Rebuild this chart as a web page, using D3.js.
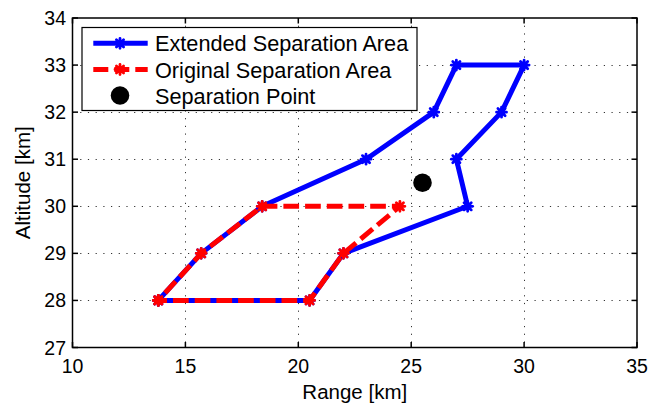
<!DOCTYPE html>
<html>
<head>
<meta charset="utf-8">
<script src="https://cdn.jsdelivr.net/npm/d3@7"></script>
<style>
  html, body { margin: 0; padding: 0; background: #fff; }
  svg { display: block; font-family: "Liberation Sans", Arial, Helvetica, sans-serif; }
</style>
</head>
<body>
<script>
// Extended separation area boundary (range km, altitude km)
const extendedRange    = [13.8, 20.5, 22.0, 27.5, 27.0, 29.0, 30.0, 27.0, 26.0, 23.0, 18.4, 15.7, 13.8];
const extendedAltitude = [28.0, 28.0, 29.0, 30.0, 31.0, 32.0, 33.0, 33.0, 32.0, 31.0, 30.0, 29.0, 28.0];

// Original separation area boundary
const originalRange    = [13.8, 20.5, 22.0, 24.5, 18.4, 15.7, 13.8];
const originalAltitude = [28.0, 28.0, 29.0, 30.0, 30.0, 29.0, 28.0];

// Separation point
const separationRange = [25.5];
const separationAltitude = [30.5];

// Axis ticks and labels
const xTicks = [10, 15, 20, 25, 30, 35];
const yTicks = [27, 28, 29, 30, 31, 32, 33, 34];
const seriesNames = ["Extended Separation Area", "Original Separation Area", "Separation Point"];
const xLabel = "Range [km]";
const yLabel = "Altitude [km]";

const W = 651, H = 408;
const svg = d3.select("body").append("svg").attr("width", W).attr("height", H);

const x = d3.scaleLinear().domain([10, 35]).range([72.5, 637]);
const y = d3.scaleLinear().domain([27, 34]).range([347.5, 18]);

const blue = "#0000ff", red = "#ff0000";

// Dotted grid
const grid = svg.append("g").attr("stroke", "#333").attr("stroke-width", 1)
  .attr("stroke-dasharray", "1.2,6.5");
grid.selectAll(".gx").data(xTicks.slice(1, -1)).join("line")
  .attr("x1", d => Math.round(x(d)) + 0.5).attr("x2", d => Math.round(x(d)) + 0.5)
  .attr("y1", y(34)).attr("y2", y(27));
grid.selectAll(".gy").data(yTicks.slice(1, -1)).join("line")
  .attr("y1", d => Math.round(y(d)) + 0.5).attr("y2", d => Math.round(y(d)) + 0.5)
  .attr("x1", x(10)).attr("x2", x(35));

const line = d3.line().x(d => x(d[0])).y(d => y(d[1]));
const ext = extendedRange.map((r, i) => [r, extendedAltitude[i]]);
const orig = originalRange.map((r, i) => [r, originalAltitude[i]]);

function asterisk(sel, color) {
  const r = 5, d = 3.6;
  sel.attr("d", `M0,${-r}L0,${r}M${-r},0L${r},0M${-d},${-d}L${d},${d}M${-d},${d}L${d},${-d}`)
    .attr("fill", "none").attr("stroke", color).attr("stroke-width", 2.8)
    .attr("stroke-linecap", "round");
}

// Extended area
svg.append("path").datum(ext).attr("d", line)
  .attr("fill", "none").attr("stroke", blue).attr("stroke-width", 5)
  .attr("stroke-linejoin", "round");
svg.selectAll(".mb").data(ext).join("path")
  .attr("transform", d => `translate(${x(d[0])},${y(d[1])})`)
  .call(asterisk, blue);

// Original area
svg.append("path").datum(orig).attr("d", line)
  .attr("fill", "none").attr("stroke", red).attr("stroke-width", 5)
  .attr("stroke-dasharray", "15.7,6").attr("stroke-dashoffset", 7)
  .attr("stroke-linejoin", "round");
svg.selectAll(".mr").data(orig).join("path")
  .attr("transform", d => `translate(${x(d[0])},${y(d[1])})`)
  .call(asterisk, red);

// Separation point
svg.selectAll(".sp").data(separationRange).join("circle")
  .attr("cx", d => x(d)).attr("cy", (d, i) => y(separationAltitude[i]))
  .attr("r", 9.3).attr("fill", "#000");

// Axes frame and inward ticks on all sides
const frame = svg.append("g").attr("stroke", "#000").attr("stroke-width", 1.5).attr("fill", "none");
frame.append("rect").attr("x", x(10)).attr("y", y(34))
  .attr("width", x(35) - x(10)).attr("height", y(27) - y(34));
const tl = 5.5;
xTicks.forEach(t => {
  frame.append("line").attr("x1", x(t)).attr("x2", x(t)).attr("y1", y(27)).attr("y2", y(27) - tl);
  frame.append("line").attr("x1", x(t)).attr("x2", x(t)).attr("y1", y(34)).attr("y2", y(34) + tl);
});
yTicks.forEach(t => {
  frame.append("line").attr("y1", y(t)).attr("y2", y(t)).attr("x1", x(10)).attr("x2", x(10) + tl);
  frame.append("line").attr("y1", y(t)).attr("y2", y(t)).attr("x1", x(35)).attr("x2", x(35) - tl);
});

// Tick labels
svg.selectAll(".xl").data(xTicks).join("text")
  .attr("x", d => x(d)).attr("y", 373).attr("text-anchor", "middle")
  .attr("font-size", 19.5).attr("fill", "#000").text(d => d);
svg.selectAll(".yl").data(yTicks).join("text")
  .attr("x", 66).attr("y", d => y(d) + 7).attr("text-anchor", "end")
  .attr("font-size", 19.5).attr("fill", "#000").text(d => d);

// Axis titles
svg.append("text").attr("x", (x(10) + x(35)) / 2).attr("y", 399)
  .attr("text-anchor", "middle").attr("font-size", 20.5).text(xLabel);
svg.append("text").attr("transform", `translate(30,${(y(27) + y(34)) / 2}) rotate(-90)`)
  .attr("text-anchor", "middle").attr("font-size", 20.5).text(yLabel);

// Legend
const lg = svg.append("g");
lg.append("rect").attr("x", 82).attr("y", 27.5).attr("width", 335).attr("height", 83)
  .attr("fill", "#fff").attr("stroke", "#000").attr("stroke-width", 1.2);
const rows = [43.3, 69.5, 95.5];
const lx0 = 93.3, lx1 = 147.7, lmx = 120, ltx = 155;
lg.append("line").attr("x1", lx0).attr("x2", lx1).attr("y1", rows[0]).attr("y2", rows[0])
  .attr("stroke", blue).attr("stroke-width", 5);
lg.append("path").attr("transform", `translate(${lmx},${rows[0]})`).call(asterisk, blue);
lg.append("line").attr("x1", lx0).attr("x2", lx1).attr("y1", rows[1]).attr("y2", rows[1])
  .attr("stroke", red).attr("stroke-width", 5).attr("stroke-dasharray", "15,6");
lg.append("path").attr("transform", `translate(${lmx},${rows[1]})`).call(asterisk, red);
lg.append("circle").attr("cx", lmx).attr("cy", rows[2]).attr("r", 9.3).attr("fill", "#000");
lg.selectAll(".lt").data(seriesNames).join("text")
  .attr("x", ltx).attr("y", (d, i) => rows[i] + 8).attr("font-size", 21.7).attr("fill", "#000")
  .text(d => d);
</script>
</body>
</html>
